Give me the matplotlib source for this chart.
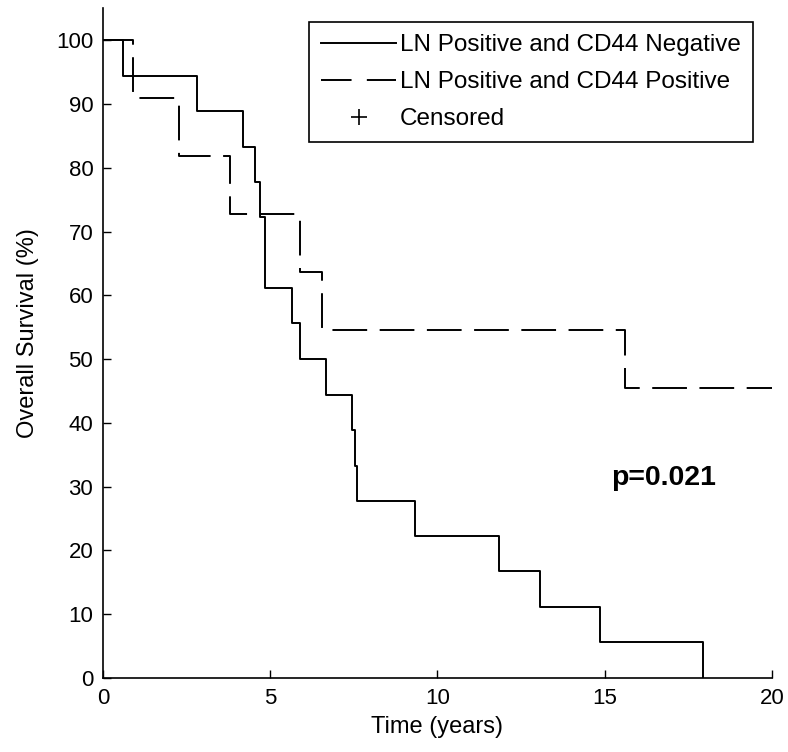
import matplotlib
matplotlib.use("Agg")
import matplotlib.pyplot as plt
from matplotlib.lines import Line2D

# --- Data ---
neg_label = "LN Positive and CD44 Negative"
neg_times = [0, 0.59, 2.80, 4.20, 4.54, 4.68, 4.84, 5.66, 5.89, 6.67, 7.45, 7.52, 7.60,
             9.33, 11.84, 13.06, 14.87, 17.95]
neg_surv = [100, 94.4, 88.9, 83.3, 77.8, 72.2, 61.1, 55.6, 50.0, 44.4, 38.9, 33.3, 27.8,
            22.2, 16.7, 11.1, 5.6, 0]

pos_label = "LN Positive and CD44 Positive"
pos_times = [0, 0.90, 2.27, 3.80, 5.89, 6.54, 15.62, 20]
pos_surv = [100, 90.9, 81.8, 72.7, 63.6, 54.5, 45.5, 45.5]

p_text = "p=0.021"

plt.rcParams['font.family'] = ['Liberation Sans', 'DejaVu Sans']
plt.rcParams['lines.scale_dashes'] = False

fig = plt.figure(figsize=(7.88, 7.52), dpi=100)
ax = fig.add_axes([0.1307, 0.0984, 0.849, 0.8906])

ax.plot(neg_times, neg_surv, drawstyle='steps-post', color='black', lw=1.4)
ax.plot(pos_times, pos_surv, drawstyle='steps-post', color='black', lw=1.4,
        linestyle=(0, (25, 9)))

ax.set_xlim(0, 20)
ax.set_ylim(0, 105)
ax.set_xticks(range(0, 21, 5))
ax.set_yticks(range(0, 101, 10))
ax.tick_params(direction='in', length=6, width=1, labelsize=16, pad=7, colors='black')
for side in ['top', 'right']:
    ax.spines[side].set_visible(False)
for side in ['left', 'bottom']:
    ax.spines[side].set_linewidth(1.2)

ax.set_xlabel("Time (years)", fontsize=17, labelpad=5)
ax.set_ylabel("Overall Survival (%)", fontsize=17)
ax.yaxis.set_label_coords(-0.095, 0.515)

ax.text(15.2, 31.4, p_text, fontsize=20.5, fontweight='bold', va='center', ha='left')

handles = [
    Line2D([], [], color='black', lw=1.4),
    Line2D([], [], color='black', lw=1.4, linestyle=(0, (22, 11))),
    Line2D([], [], color='black', lw=0, marker='+', markersize=12, markeredgewidth=1.2),
]
leg = ax.legend(handles, [neg_label, pos_label, "Censored"], loc='upper right',
                bbox_to_anchor=(753 / 788, 1 - 22 / 752), bbox_transform=fig.transFigure,
                borderaxespad=0, fontsize=17.5, handlelength=3.1, handletextpad=0.15,
                labelspacing=0.62, fancybox=False, framealpha=1, edgecolor='black',
                borderpad=0.5)
leg.get_frame().set_linewidth(1.2)

fig.savefig("out.png", dpi=100)
